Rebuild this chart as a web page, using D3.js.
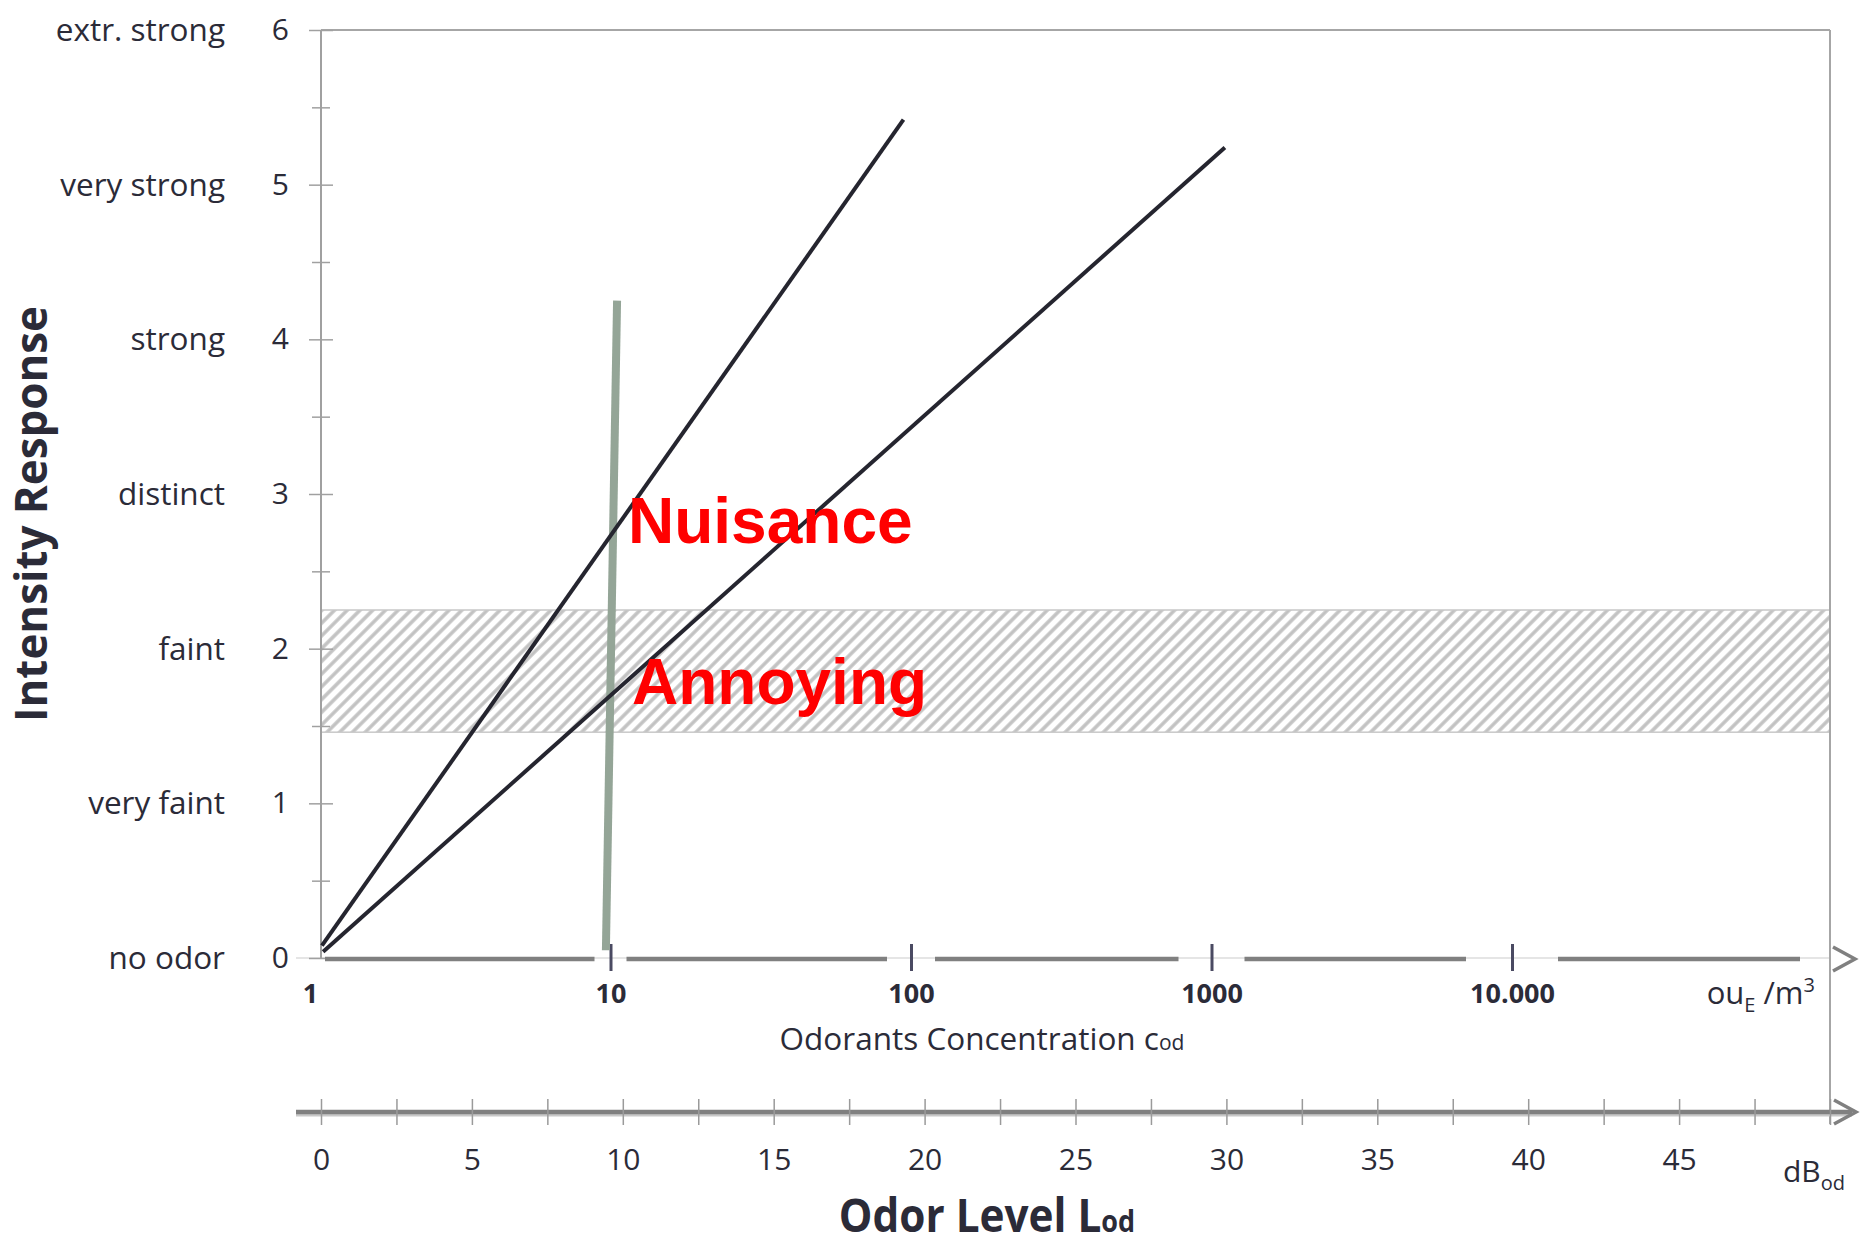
<!DOCTYPE html>
<html>
<head>
<meta charset="utf-8">
<script src="https://cdn.jsdelivr.net/npm/d3@7"></script>
<style>
  body { margin: 0; background: #fff; }
  svg { display: block; }
</style>
</head>
<body>
<div id="chart"></div>
<script>
// Thang cường độ mùi (trục tung)
const intensityLevels = [0, 1, 2, 3, 4, 5, 6];
const intensityNames = ["no odor", "very faint", "faint", "distinct", "strong", "very strong", "extr. strong"];

// Trục nồng độ (log)
const concTicks = [1, 10, 100, 1000, 10000];
const concLabels = ["1", "10", "100", "1000", "10.000"];

// Trục mức mùi dB
const dbTicks = [0, 5, 10, 15, 20, 25, 30, 35, 40, 45];
const dbMinorStep = 2.5;

// Các đường (dB, cường độ)
const steepLine = [{ db: 0.03, r: 0.08 }, { db: 19.3, r: 5.42 }];
const flatLine = [{ db: 0.07, r: 0.04 }, { db: 29.95, r: 5.24 }];
const thresholdLine = [{ db: 9.44, r: 0.05 }, { db: 9.81, r: 4.25 }];

// Vùng "Annoying" (cường độ)
const annoyBand = [1.46, 2.25];

const W = 1864, H = 1246;
const plotL = 321, plotR = 1830, plotT = 30, plotB = 958;
const textColor = "#2b2b38";
const font = "'Open Sans', sans-serif";

const svg = d3.select("#chart").append("svg")
  .attr("width", W).attr("height", H)
  .style("font-family", font);

const y = d3.scaleLinear().domain([0, 6]).range([plotB, plotT]);
const xDb = d3.scaleLinear().domain([0, 50]).range([plotL, plotR]);
const xConc = d3.scaleLog().domain([1, 10000]).range([310, 1512]);

// Hoa văn gạch chéo
const defs = svg.append("defs");
const pat = defs.append("pattern")
  .attr("id", "hatch")
  .attr("patternUnits", "userSpaceOnUse")
  .attr("width", 9).attr("height", 9)
  .attr("patternTransform", "rotate(45)");
pat.append("rect").attr("width", 9).attr("height", 9).attr("fill", "#fff");
pat.append("line").attr("x1", 2).attr("x2", 2).attr("y1", 0).attr("y2", 9)
  .attr("stroke", "#c2c2c2").attr("stroke-width", 3.5);

// Vùng Annoying
svg.append("rect")
  .attr("x", plotL)
  .attr("y", y(annoyBand[1]))
  .attr("width", plotR - plotL)
  .attr("height", y(annoyBand[0]) - y(annoyBand[1]))
  .attr("fill", "url(#hatch)")
  .attr("stroke", "#c8c8c8")
  .attr("stroke-width", 1.5);

// Đường nền mảnh ở mức 0
svg.append("line")
  .attr("x1", 296).attr("x2", plotR)
  .attr("y1", plotB).attr("y2", plotB)
  .attr("stroke", "#dcdcdc").attr("stroke-width", 1.5);

// Khung: trên và phải
svg.append("line").attr("x1", plotL).attr("x2", plotR).attr("y1", plotT).attr("y2", plotT)
  .attr("stroke", "#a6a6a6").attr("stroke-width", 2);
svg.append("line").attr("x1", plotR).attr("x2", plotR).attr("y1", plotT).attr("y2", 1124)
  .attr("stroke", "#a6a6a6").attr("stroke-width", 2);

// Trục tung
svg.append("line").attr("x1", plotL).attr("x2", plotL).attr("y1", plotT).attr("y2", plotB)
  .attr("stroke", "#a0a0a0").attr("stroke-width", 2);

const yAxis = svg.append("g")
  .attr("transform", `translate(${plotL},0)`)
  .call(d3.axisLeft(y).tickValues(intensityLevels).tickSize(12).tickPadding(20)
    .tickFormat(d3.format("d")));
yAxis.select(".domain").remove();
yAxis.selectAll("line").attr("x1", 12).attr("stroke", "#a0a0a0").attr("stroke-width", 1.5);
yAxis.selectAll("text")
  .style("font-size", "30px").style("font-family", font).attr("fill", textColor);

const yMinor = svg.append("g")
  .attr("transform", `translate(${plotL},0)`)
  .call(d3.axisLeft(y).tickValues(d3.range(0.5, 6, 1)).tickSize(9).tickFormat(""));
yMinor.select(".domain").remove();
yMinor.selectAll("line").attr("x1", 9).attr("stroke", "#a0a0a0").attr("stroke-width", 1.5);

// Nhãn mô tả cường độ
svg.selectAll(".cat")
  .data(intensityLevels)
  .enter()
  .append("text")
  .attr("class", "cat")
  .attr("x", 225)
  .attr("y", d => y(d))
  .attr("dy", "0.35em")
  .attr("text-anchor", "end")
  .style("font-size", "31.5px")
  .attr("fill", textColor)
  .text((d, i) => intensityNames[i]);

// Tiêu đề trục tung
svg.append("text")
  .attr("transform", "translate(47,514) rotate(-90)")
  .attr("text-anchor", "middle")
  .attr("textLength", 416)
  .attr("lengthAdjust", "spacingAndGlyphs")
  .style("font-size", "45px")
  .style("font-weight", "bold")
  .attr("fill", textColor)
  .text("Intensity Response");

// Trục nồng độ (log) - đường đậm có khoảng hở quanh vạch
const logY = 959;
const gapHalf = [16, 24, 33, 46];
const segStarts = [325], segEnds = [];
concTicks.slice(1).forEach((c, i) => {
  segEnds.push(xConc(c) - gapHalf[i]);
  segStarts.push(xConc(c) + gapHalf[i]);
});
segEnds.push(1800);
svg.selectAll(".logseg")
  .data(segStarts)
  .enter()
  .append("line")
  .attr("class", "logseg")
  .attr("x1", d => d)
  .attr("x2", (d, i) => segEnds[i])
  .attr("y1", logY).attr("y2", logY)
  .attr("stroke", "#808080").attr("stroke-width", 4.5);

svg.append("path")
  .attr("d", `M1833,${logY - 12}L1855,${logY}L1833,${logY + 12}`)
  .attr("fill", "none").attr("stroke", "#808080").attr("stroke-width", 3.5);

const concAxis = svg.append("g")
  .attr("transform", `translate(0,${logY})`)
  .call(d3.axisBottom(xConc).tickValues(concTicks).tickSize(12)
    .tickFormat((d, i) => concLabels[i]));
concAxis.select(".domain").remove();
concAxis.selectAll("line")
  .attr("y1", -15)
  .attr("stroke", "#4a4a62").attr("stroke-width", 3)
  .attr("display", d => d === 1 ? "none" : null);
concAxis.selectAll("text")
  .attr("y", 35).attr("dy", "0.35em")
  .style("font-size", "27px").style("font-weight", "bold").style("font-family", font)
  .attr("fill", textColor);

// Đơn vị ouE/m3
const unit = svg.append("text")
  .attr("x", 1815).attr("y", 1004)
  .attr("text-anchor", "end")
  .style("font-size", "31px")
  .attr("fill", textColor);
unit.append("tspan").text("ou");
unit.append("tspan").attr("dy", 8).style("font-size", "20px").text("E");
unit.append("tspan").attr("dy", -8).text(" /m");
unit.append("tspan").attr("dy", -12).style("font-size", "20px").text("3");

// Nhãn "Odorants Concentration cod"
const concTitle = svg.append("text")
  .attr("x", 982).attr("y", 1050)
  .attr("text-anchor", "middle")
  .style("font-size", "31.5px")
  .attr("fill", textColor);
concTitle.append("tspan").text("Odorants Concentration c");
concTitle.append("tspan").style("font-size", "21px").text("od");

// Trục dB
const dbY = 1112;
svg.append("line")
  .attr("x1", 296).attr("x2", 1852)
  .attr("y1", dbY + 3).attr("y2", dbY + 3)
  .attr("stroke", "#c8c8c8").attr("stroke-width", 3);
svg.append("line")
  .attr("x1", 296).attr("x2", 1852)
  .attr("y1", dbY).attr("y2", dbY)
  .attr("stroke", "#808080").attr("stroke-width", 4.5);
svg.append("path")
  .attr("d", `M1834,${dbY - 12}L1856,${dbY}L1834,${dbY + 12}`)
  .attr("fill", "none").attr("stroke", "#808080").attr("stroke-width", 3.5);

const dbAxis = svg.append("g")
  .attr("transform", `translate(0,${dbY})`)
  .call(d3.axisBottom(xDb).tickValues(d3.range(0, 50 + 0.1, dbMinorStep)).tickSize(13)
    .tickFormat(d => dbTicks.includes(d) ? d : ""));
dbAxis.select(".domain").remove();
dbAxis.selectAll("line").attr("y1", -13).attr("stroke", "#9a9a9a").attr("stroke-width", 1.5);
dbAxis.selectAll("text")
  .attr("y", 47).attr("dy", "0.35em")
  .style("font-size", "30px").style("font-family", font)
  .attr("fill", textColor);

// Đơn vị dBod
const dbUnit = svg.append("text")
  .attr("x", 1783).attr("y", 1182)
  .style("font-size", "30px")
  .attr("fill", textColor);
dbUnit.append("tspan").text("dB");
dbUnit.append("tspan").attr("dy", 8).style("font-size", "20px").text("od");

// Tiêu đề trục dB (chữ hẹp như bản gốc)
const lvTitle = svg.append("text")
  .attr("transform", "translate(987,1232) scale(0.9,1)")
  .attr("text-anchor", "middle")
  .style("font-size", "47px")
  .style("font-weight", "bold")
  .attr("fill", textColor);
lvTitle.append("tspan").text("Odor Level L");
lvTitle.append("tspan").style("font-size", "30px").text("od");

// Các đường
const line = d3.line().x(d => xDb(d.db)).y(d => y(d.r));

svg.append("path")
  .datum(thresholdLine)
  .attr("d", line)
  .attr("stroke", "#94a597").attr("stroke-width", 8).attr("fill", "none");

[steepLine, flatLine].forEach(l => {
  svg.append("path")
    .datum(l)
    .attr("d", line)
    .attr("stroke", "#25252f").attr("stroke-width", 4).attr("fill", "none");
});

// Nhãn đỏ
svg.append("text")
  .attr("x", 628).attr("y", 543)
  .style("font-family", "'Liberation Sans', Arial, sans-serif")
  .style("font-size", "64px").style("font-weight", "bold")
  .attr("fill", "#ff0000")
  .text("Nuisance");

svg.append("text")
  .attr("x", 632).attr("y", 704)
  .style("font-family", "'Liberation Sans', Arial, sans-serif")
  .style("font-size", "64px").style("font-weight", "bold")
  .attr("fill", "#ff0000")
  .text("Annoying");
</script>
</body>
</html>
